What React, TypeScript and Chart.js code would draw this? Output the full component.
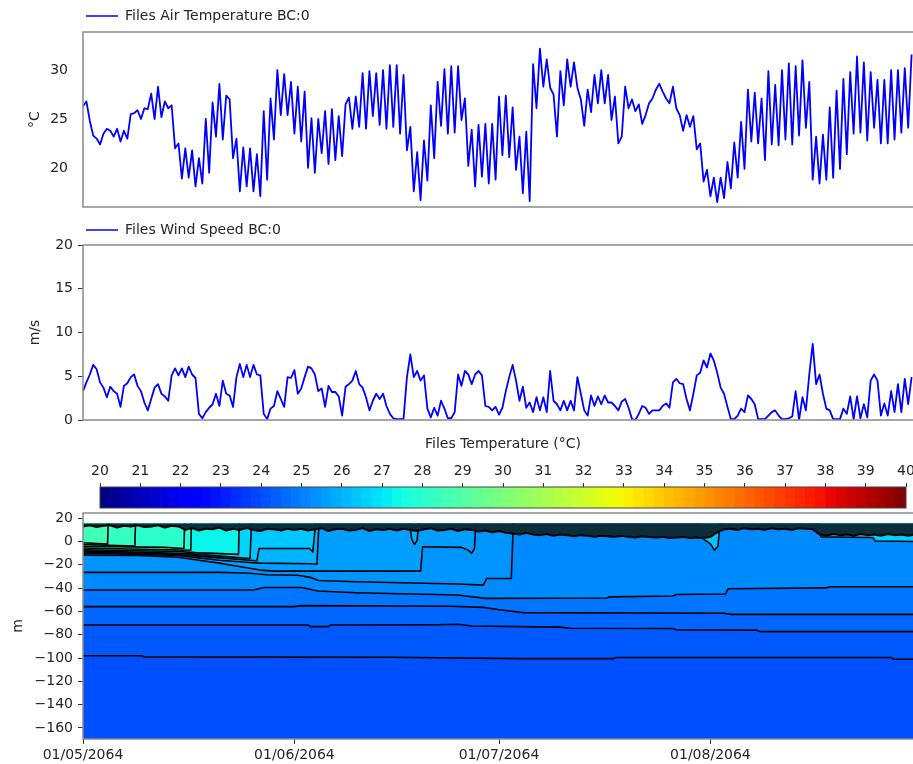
import React, { useEffect, useRef } from 'react';
import { Chart, registerables } from 'chart.js';

Chart.register(...registerables);

const FONT_FAMILY = '"DejaVu Sans", Verdana, sans-serif';
const TEXT_COLOR = '#262626';
const SPINE_COLOR = '#8a8a8a';
const LINE_BLUE = '#0000ff';

Chart.defaults.font.family = FONT_FAMILY;
Chart.defaults.font.size = 14;
Chart.defaults.color = TEXT_COLOR;

// Forcing records start 01/05/2064 00:00, one value every 12 hours
const SAMPLE_STEP_DAYS = 0.5;
const RECORD_DAYS = 122;

const airTemperature = [
  26.3, 26.8, 24.8, 23.3, 23.0, 22.4, 23.5, 24.0, 23.8, 23.2,
  24.0, 22.7, 23.8, 23.0, 25.5, 25.6, 25.9, 25.0, 26.1, 26.0,
  27.6, 25.0, 28.3, 25.2, 26.8, 26.1, 26.4, 22.0, 22.5, 18.9,
  22.0, 19.0, 21.8, 18.1, 21.0, 18.4, 25.0, 19.5, 26.7, 23.2,
  28.6, 22.9, 27.4, 27.0, 21.0, 23.0, 17.6, 22.1, 18.1, 22.0,
  17.6, 21.4, 17.1, 25.8, 18.8, 27.1, 22.9, 30.0, 25.4, 29.6,
  25.4, 28.8, 23.5, 28.3, 22.7, 27.8, 20.0, 25.1, 19.5, 25.0,
  21.5, 25.8, 20.4, 26.0, 20.8, 25.3, 21.2, 26.5, 27.2, 24.0,
  27.3, 24.2, 29.7, 24.0, 29.9, 25.3, 29.7, 24.4, 30.0, 24.0,
  30.5, 24.2, 30.5, 23.5, 29.5, 21.8, 24.2, 17.6, 21.6, 16.7,
  22.8, 18.7, 26.4, 21.0, 28.8, 24.3, 30.1, 23.5, 30.4,
  23.6, 30.4, 24.9, 27.1, 20.2, 23.9, 18.1, 24.4, 19.1, 24.5,
  18.4, 24.5, 18.8, 27.3, 21.3, 27.4, 21.1, 26.2, 19.8, 23.2,
  17.4, 23.7, 16.6, 30.6, 26.1, 32.2, 28.3, 31.1, 28.2, 27.5,
  23.2, 29.9, 26.4, 31.1, 28.3, 30.8, 28.2, 27.0, 24.3, 28.0,
  25.7, 29.5, 26.6, 30.0, 26.6, 29.5, 24.9, 27.3, 22.5, 23.2,
  28.3, 26.1, 27.0, 25.8, 26.5, 24.5, 25.4, 26.6, 27.1, 28.0,
  28.6, 27.8, 27.1, 26.6, 28.3, 26.1, 25.4, 23.8, 25.4, 24.2,
  25.3, 21.9, 22.5, 18.6, 19.8, 17.1, 19.0, 16.5, 19.0, 16.9,
  20.6, 17.9, 22.6, 19.0, 24.7, 19.9, 28.0, 22.7, 27.7, 22.5,
  27.1, 20.8, 29.9, 22.4, 28.5, 22.3, 30.0, 22.9, 30.7, 22.4,
  30.4, 23.3, 31.0, 24.1, 28.8, 18.8, 23.2, 18.4, 23.4, 18.8,
  26.2, 19.0, 27.9, 19.9, 29.1, 21.4, 29.8, 23.5, 31.4, 23.6,
  30.8, 22.8, 29.8, 24.1, 29.0, 22.5, 29.0, 22.5, 30.0, 22.9,
  30.0, 23.6, 30.2, 24.1, 31.6,
];

const windSpeed = [
  3.3, 4.3, 5.2, 6.3, 5.8, 4.3, 3.7, 2.6, 3.8, 3.3,
  3.0, 1.5, 3.9, 4.2, 4.9, 5.2, 3.9, 3.3, 2.0, 1.1,
  2.4, 3.7, 4.1, 3.0, 2.7, 2.2, 5.1, 5.9, 5.1, 5.9,
  4.9, 6.1, 5.2, 4.8, 0.7, 0.2, 0.9, 1.4, 1.8, 3.0,
  1.6, 4.5, 3.0, 2.8, 1.5, 4.9, 6.4, 4.9, 6.3, 4.9,
  6.3, 5.2, 5.1, 0.7, 0.1, 1.3, 1.6, 3.3, 2.4, 1.5,
  4.9, 4.8, 5.7, 3.0, 3.6, 4.9, 6.1, 5.9, 5.2, 3.3,
  3.6, 1.5, 3.9, 3.2, 3.2, 2.7, 0.5, 3.8, 4.1, 4.5,
  5.6, 4.1, 3.7, 2.6, 1.1, 2.2, 3.0, 2.4, 3.0, 1.6,
  0.7, 0.2, 0.1, 0.1, 0.1, 4.9, 7.5, 4.9, 5.6, 4.5,
  5.1, 1.3, 0.3, 1.4, 0.5, 2.2, 1.3, 0.2, 0.2, 0.9,
  5.2,
  3.9, 5.6, 5.2, 4.1, 5.2, 5.6, 5.1, 1.6, 1.5, 1.1,
  1.5, 0.6, 1.4, 3.3, 4.9, 6.3, 4.5, 2.2, 3.8, 1.4,
  2.0, 0.9, 2.6, 1.1, 2.6, 0.9, 5.6, 2.2, 1.8, 1.1,
  2.2, 1.1, 2.2, 1.1, 4.9, 3.0, 1.1, 0.5, 2.8, 1.6,
  2.7, 1.8, 2.8, 2.0, 2.0, 1.6, 1.1, 2.1, 2.4, 1.4,
  0.1, 0.0, 0.7, 1.6, 1.4, 0.7, 1.1, 1.1, 1.1, 1.6,
  1.9, 1.4, 4.3, 4.7, 4.2, 4.1, 2.4, 1.1, 3.0, 5.1,
  5.4, 6.8, 6.0, 7.6, 6.8, 5.4, 3.7, 3.0, 1.5, 0.1,
  0.1, 0.5, 1.3, 0.9, 2.8, 2.4, 1.8, 0.1, 0.1, 0.1,
  0.5, 0.9, 1.1, 0.5, 0.1, 0.1, 0.2, 0.4, 3.3, 0.0,
  2.6, 1.1, 5.2, 8.7, 4.1, 5.2, 3.0, 1.3, 1.1, 0.1,
  0.1, 0.1, 1.3, 0.7, 2.7, 0.1, 2.7, 0.2, 1.8, 0.3,
  4.5, 5.2, 4.5, 0.5, 1.9, 0.5, 3.3, 0.9, 4.1, 0.9,
  4.7, 1.8, 4.9,
];

const airTempTicks = [20, 25, 30];
const windTicks = [0, 5, 10, 15, 20];
const depthTicks = [20, 0, -20, -40, -60, -80, -100, -120, -140, -160];
const colorbarTicks = [20, 21, 22, 23, 24, 25, 26, 27, 28, 29, 30, 31, 32, 33, 34, 35, 36, 37, 38, 39, 40];
const dateTickDays = [0, 31, 61, 92];
const dateTickLabels = ['01/05/2064', '01/06/2064', '01/07/2064', '01/08/2064'];

// Water column profile: isotherm depths (day, m) and the temperature of the band above each
const SURFACE_LEVEL = 15.5;
const DEPTH_FLOOR = -169.5;

const isoFloor: number[][] = [[0, DEPTH_FLOOR], [RECORD_DAYS, DEPTH_FLOOR]];
const iso24_2: number[][] = [[0, -98], [8.5, -98], [9, -99], [45, -99.3], [64, -100.5], [77.8, -100.5], [78.2, -99.5], [118.5, -99.5], [119, -101], [122, -101]];
const iso24_4: number[][] = [[0, -71.6], [33, -71.6], [33.3, -73], [36, -73], [36.3, -71.6], [52, -71.4], [55, -71], [57, -72.5], [70, -73.5], [71.4, -74.4], [86.5, -74.6], [87, -75.8], [98.8, -76], [99.2, -77.3], [122, -77.3]];
const iso24_7: number[][] = [[0, -55.9], [31, -55.9], [32, -55], [54, -55.5], [58.7, -56.5], [61, -58.5], [64.6, -61], [94, -61.5], [95, -62.5], [122, -62.5]];
const iso25_0: number[][] = [[0, -41.6], [25, -41.6], [26.5, -39.4], [32, -39.4], [34.5, -42.5], [40, -43.9], [55, -45.9], [59, -48.8], [76.8, -48.5], [77.2, -47.5], [86.5, -46.8], [87, -45.5], [94.2, -45], [94.6, -40.5], [109, -39.8], [109.5, -38.8], [122, -38.8]];
const iso25_3: number[][] = [[0, -26.5], [20, -26.5], [24, -27], [27, -28.5], [31.5, -29], [33.5, -31], [34.5, -33.5], [40, -34.5], [55, -36.5], [58.7, -37.4], [59.2, -31.7], [62.8, -31.7], [63.1, SURFACE_LEVEL]];
const iso25_5: number[][] = [[0, -11.7], [8, -12], [14, -13.5], [17, -16], [20, -18.5], [22, -20.5], [24, -22.5], [26, -24.5], [28, -25.4], [49.5, -25.4], [49.8, -4.5], [55.5, -5], [56.5, -7.5], [57, -10], [57.4, -6], [57.6, SURFACE_LEVEL]];
const iso25_9: number[][] = [[0, -10], [14, -12], [17, -14], [20, -16], [24.5, -18], [26, -18.5], [33.5, -19], [34.3, -19.5], [34.6, SURFACE_LEVEL]];
const iso26_2: number[][] = [[0, -9], [14, -11], [17, -12.5], [20, -14], [24.5, -16], [25.5, -16.5], [25.8, -6], [33.2, -6], [33.7, -9], [34.1, SURFACE_LEVEL]];
const iso26_5: number[][] = [[0, -8], [14, -10], [17, -11], [20, -12.5], [24.5, -14.5], [24.7, SURFACE_LEVEL]];
const iso27_0: number[][] = [[0, -7], [14, -8.5], [16.5, -9.5], [22.8, -11], [22.9, SURFACE_LEVEL]];
const iso27_5: number[][] = [[0, -5.5], [15.8, -7.5], [15.9, SURFACE_LEVEL]];
const iso27_75: number[][] = [[0, -4], [12, -5], [14.8, -6], [14.9, SURFACE_LEVEL]];
const iso28_0: number[][] = [[0, -2.5], [7.6, -3.8], [7.7, SURFACE_LEVEL]];
const iso28_25: number[][] = [[0, -1], [3.6, -2.2], [3.7, SURFACE_LEVEL]];
const pocketJune: number[][] = [[47.9, SURFACE_LEVEL], [48.2, 2], [48.6, -2.5], [49, 1], [49.2, SURFACE_LEVEL]];
const pocketAugust: number[][] = [[90.5, SURFACE_LEVEL], [91, 2], [92, -2], [92.6, -7.4], [93.1, -4], [93.4, SURFACE_LEVEL]];
const warmLayerLate: number[][] = [[107.8, SURFACE_LEVEL], [108.2, 4], [115.8, 3.5], [116.2, 0.5], [122, 0]];

// painted from the deepest band upwards
const layerIsotherms = [isoFloor, iso24_2, iso24_4, iso24_7, iso25_0, iso25_3, iso25_5, iso25_9, iso26_2, iso26_5, iso27_0, iso27_5, iso27_75, iso28_0, iso28_25, pocketJune, pocketAugust, warmLayerLate];
const layerBandTemps = [24.05, 24.25, 24.5, 24.8, 25.2, 25.4, 25.6, 26.0, 26.4, 26.7, 27.3, 27.8, 28.05, 28.3, 28.55, 26.0, 26.4, 26.6];

// mixed surface skin, daily depth of its lower edge (m)
const surfaceSkinDepth = [
  13, 14, 12.5, 13.5, 14, 12, 13.5, 13, 14, 12.5, 13, 14, 12, 13.5, 13,
  10, 11.5, 9.5, 11, 10.5, 12, 9.5, 11, 10, 11.5, 10, 9, 11, 10.5, 9.5, 11,
  10, 11, 9.5, 10.5, 11.5, 9, 10.5, 11, 9.5, 10, 11.5, 9, 10.5, 10, 11, 9.5,
  11, 10, 9, 10.5, 11.5, 9.5, 10, 11, 9, 10.5, 10, 8.5, 9.5, 8, 9, 7.5,
  7, 6, 7.5, 6, 5.5, 6.5, 5, 6, 5.5, 4.5, 5.5, 5, 4, 5, 4.5, 4, 5, 4, 3.5,
  4.5, 4, 3.5, 4, 3, 3.5, 4, 3, 3.5, 3,
  4, 8, 10.5, 11, 10, 11.5, 10.5, 11, 10, 11.5, 10.5, 11, 10, 11.5, 11, 10.5,
  6, 5, 6.5, 5.5, 6, 5, 6.5, 5.5, 6, 5, 6.5, 5.5, 6, 5, 6,
];
const SKIN_COLOR = '#0b2e3a';

// colour scale
const CB_MIN = 20;
const CB_MAX = 40;
const CB_STEP = 0.25;
const colorbarLevels = Array.from({ length: Math.round((CB_MAX - CB_MIN) / CB_STEP) }, (_, i) => CB_MIN + i * CB_STEP);

const JET: Record<string, number[][]> = {
  r: [[0, 0], [0.35, 0], [0.66, 1], [0.89, 1], [1, 0.5]],
  g: [[0, 0], [0.125, 0], [0.375, 1], [0.64, 1], [0.91, 0], [1, 0]],
  b: [[0, 0.5], [0.11, 1], [0.34, 1], [0.65, 0], [1, 0]],
};

function channel(stops: number[][], t: number) {
  for (let i = 1; i < stops.length; i++) {
    const [x0, y0] = stops[i - 1];
    const [x1, y1] = stops[i];
    if (t <= x1) return y0 + ((y1 - y0) * (t - x0)) / (x1 - x0);
  }
  return stops[stops.length - 1][1];
}

function jet(temp: number) {
  const t = Math.min(1, Math.max(0, (temp - CB_MIN) / (CB_MAX - CB_MIN)));
  const r = Math.round(255 * channel(JET.r, t));
  const g = Math.round(255 * channel(JET.g, t));
  const b = Math.round(255 * channel(JET.b, t));
  return `rgb(${r},${g},${b})`;
}

const seriesPoints = (values: number[]) => values.map((v, i) => ({ x: i * SAMPLE_STEP_DAYS, y: v }));
const pathPoints = (pairs: number[][]) => pairs.map(([d, z]) => ({ x: d, y: z }));

// frame around the plotting area
const framePlugin = {
  id: 'frame',
  afterDatasetsDraw(chart: any, _args: any, opts: any) {
    const { left, top, right, bottom } = chart.chartArea;
    const ctx = chart.ctx;
    ctx.save();
    ctx.strokeStyle = opts.color || SPINE_COLOR;
    ctx.lineWidth = opts.width || 1.5;
    ctx.strokeRect(left, top, right - left, bottom - top);
    ctx.restore();
  },
};

// single-entry key above the plot: a line sample and the series name
const seriesKeyPlugin = {
  id: 'seriesKey',
  afterDraw(chart: any, _args: any, opts: any) {
    if (!opts || opts.y == null) return;
    const ds = chart.data.datasets[0];
    const ctx = chart.ctx;
    const x0 = chart.chartArea.left + 3;
    ctx.save();
    ctx.strokeStyle = ds.borderColor;
    ctx.lineWidth = 1.5;
    ctx.beginPath();
    ctx.moveTo(x0, opts.y);
    ctx.lineTo(x0 + 32, opts.y);
    ctx.stroke();
    ctx.fillStyle = TEXT_COLOR;
    ctx.font = `14px ${FONT_FAMILY}`;
    ctx.textBaseline = 'middle';
    ctx.fillText(ds.label, x0 + 39, opts.y + 0.5);
    ctx.restore();
  },
};

const fixedWidth = (w: number) => (scale: any) => {
  scale.width = w;
};
const fixedHeight = (h: number) => (scale: any) => {
  scale.height = h;
};
const setTicks = (values: number[]) => (scale: any) => {
  scale.ticks = values.map((v) => ({ value: v }));
};

const hiddenTimeAxis = {
  type: 'linear',
  min: 0,
  max: RECORD_DAYS,
  ticks: { display: false },
  grid: { display: false },
  border: { display: false },
  afterFit: fixedHeight(0),
};

function timeSeriesConfig(label: string, values: number[], yMin: number, yMax: number, ticks: number[], unit: string, keyY: number, padTop: number, padBottom: number, drawTickMarks: boolean): any {
  return {
    type: 'line',
    data: {
      datasets: [
        {
          label,
          data: seriesPoints(values),
          borderColor: LINE_BLUE,
          borderWidth: 1.8,
          borderJoinStyle: 'round',
          pointRadius: 0,
          tension: 0,
        },
      ],
    },
    options: {
      animation: false,
      responsive: false,
      devicePixelRatio: 1,
      events: [],
      layout: { padding: { top: padTop, bottom: padBottom, left: 0, right: 15 } },
      plugins: {
        legend: { display: false },
        tooltip: { enabled: false },
        seriesKey: { y: keyY },
        frame: { color: SPINE_COLOR, width: 1.5 },
      },
      scales: {
        x: hiddenTimeAxis,
        y: {
          type: 'linear',
          min: yMin,
          max: yMax,
          afterBuildTicks: setTicks(ticks),
          ticks: { padding: drawTickMarks ? 5 : 10, color: TEXT_COLOR },
          grid: { display: drawTickMarks, drawOnChartArea: false, drawTicks: true, tickLength: 5, color: '#333' },
          border: { display: false },
          title: { display: true, text: unit, padding: { top: 27, bottom: 0 }, color: TEXT_COLOR },
          afterFit: fixedWidth(83),
        },
      },
    },
    plugins: [framePlugin, seriesKeyPlugin],
  };
}

function colorbarConfig(): any {
  return {
    type: 'bar',
    data: {
      labels: ['scale'],
      datasets: [
        {
          data: colorbarLevels.map((l) => ({ x: [l, l + CB_STEP], y: 'scale' })),
          backgroundColor: colorbarLevels.map((l) => jet(l + CB_STEP / 2)),
          borderWidth: 0,
          barPercentage: 1,
          categoryPercentage: 1,
          grouped: false,
        },
      ],
    },
    options: {
      indexAxis: 'y',
      animation: false,
      responsive: false,
      devicePixelRatio: 1,
      events: [],
      layout: { padding: { top: 0, bottom: 4, left: 100, right: 24 } },
      plugins: {
        legend: { display: false },
        tooltip: { enabled: false },
        frame: { color: '#444', width: 1 },
      },
      scales: {
        x: {
          type: 'linear',
          position: 'top',
          min: CB_MIN,
          max: CB_MAX,
          afterBuildTicks: setTicks(colorbarTicks),
          ticks: { padding: 3, autoSkip: false, maxRotation: 0, color: TEXT_COLOR },
          grid: { display: true, drawOnChartArea: false, drawTicks: true, tickLength: 4, color: '#333' },
          border: { display: false },
          title: { display: true, text: 'Files Temperature (°C)', padding: { top: 6, bottom: 0 }, color: TEXT_COLOR },
          afterFit: fixedHeight(57),
        },
        y: { type: 'category', display: false },
      },
    },
    plugins: [framePlugin],
  };
}

function profileConfig(): any {
  const layers = layerIsotherms.map((iso, i) => ({
    data: pathPoints(iso),
    borderColor: i === 0 ? 'rgba(0,0,0,0)' : '#000',
    borderWidth: i === 0 ? 0 : 1.6,
    borderJoinStyle: 'round',
    pointRadius: 0,
    tension: 0,
    fill: { value: SURFACE_LEVEL },
    backgroundColor: jet(layerBandTemps[i]),
  }));
  const skin = {
    data: surfaceSkinDepth.map((z, d) => ({ x: d, y: z })),
    borderColor: '#000',
    borderWidth: 2,
    borderJoinStyle: 'round',
    pointRadius: 0,
    tension: 0,
    fill: { value: SURFACE_LEVEL },
    backgroundColor: SKIN_COLOR,
  };
  // first dataset is painted last, so the list runs from the surface downwards
  const datasets = [skin, ...layers.reverse()];
  return {
    type: 'line',
    data: { datasets },
    options: {
      animation: false,
      responsive: false,
      devicePixelRatio: 1,
      events: [],
      layout: { padding: { top: 18, bottom: 0, left: 0, right: 15 } },
      plugins: {
        legend: { display: false },
        tooltip: { enabled: false },
        frame: { color: SPINE_COLOR, width: 1.5 },
      },
      scales: {
        x: {
          type: 'linear',
          min: 0,
          max: RECORD_DAYS,
          afterBuildTicks: setTicks(dateTickDays),
          ticks: { padding: 3, autoSkip: false, maxRotation: 0, color: TEXT_COLOR, callback: (_v: any, i: number) => dateTickLabels[i] },
          grid: { display: true, drawOnChartArea: false, drawTicks: true, tickLength: 5, color: '#333' },
          border: { display: false },
          afterFit: fixedHeight(25),
        },
        y: {
          type: 'linear',
          min: DEPTH_FLOOR,
          max: 24.5,
          afterBuildTicks: setTicks(depthTicks),
          ticks: { padding: 5, color: TEXT_COLOR, callback: (v: any) => String(v).replace('-', '\u2212') },
          grid: { display: true, drawOnChartArea: false, drawTicks: true, tickLength: 5, color: '#333' },
          border: { display: false },
          title: { display: true, text: 'm', padding: { top: 10, bottom: 0 }, color: TEXT_COLOR },
          afterFit: fixedWidth(83),
        },
      },
    },
    plugins: [framePlugin],
  };
}

const canvasStyle = (top: number, width: number, height: number): React.CSSProperties => ({
  position: 'absolute',
  left: 0,
  top,
  width,
  height,
});

export default function App() {
  const airRef = useRef<HTMLCanvasElement | null>(null);
  const windRef = useRef<HTMLCanvasElement | null>(null);
  const scaleRef = useRef<HTMLCanvasElement | null>(null);
  const profileRef = useRef<HTMLCanvasElement | null>(null);

  useEffect(() => {
    const charts: Chart[] = [];
    if (airRef.current) {
      charts.push(new Chart(airRef.current, timeSeriesConfig('Files Air Temperature BC:0', airTemperature, 16.0, 33.9, airTempTicks, '°C', 16, 32, 23, false)));
    }
    if (windRef.current) {
      charts.push(new Chart(windRef.current, timeSeriesConfig('Files Wind Speed BC:0', windSpeed, 0, 20, windTicks, 'm/s', 15, 30, 25, true)));
    }
    if (scaleRef.current) {
      charts.push(new Chart(scaleRef.current, colorbarConfig()));
    }
    if (profileRef.current) {
      charts.push(new Chart(profileRef.current, profileConfig()));
    }
    return () => {
      charts.forEach((c) => c.destroy());
    };
  }, []);

  return (
    <div style={{ position: 'absolute', left: 0, top: 0, width: 913, height: 764, overflow: 'hidden', background: '#fff' }}>
      <canvas ref={airRef} width={930} height={230} style={canvasStyle(0, 930, 230)} />
      <canvas ref={windRef} width={930} height={230} style={canvasStyle(215, 930, 230)} />
      <canvas ref={scaleRef} width={930} height={82} style={canvasStyle(430, 930, 82)} />
      <canvas ref={profileRef} width={930} height={269} style={canvasStyle(495, 930, 269)} />
    </div>
  );
}
